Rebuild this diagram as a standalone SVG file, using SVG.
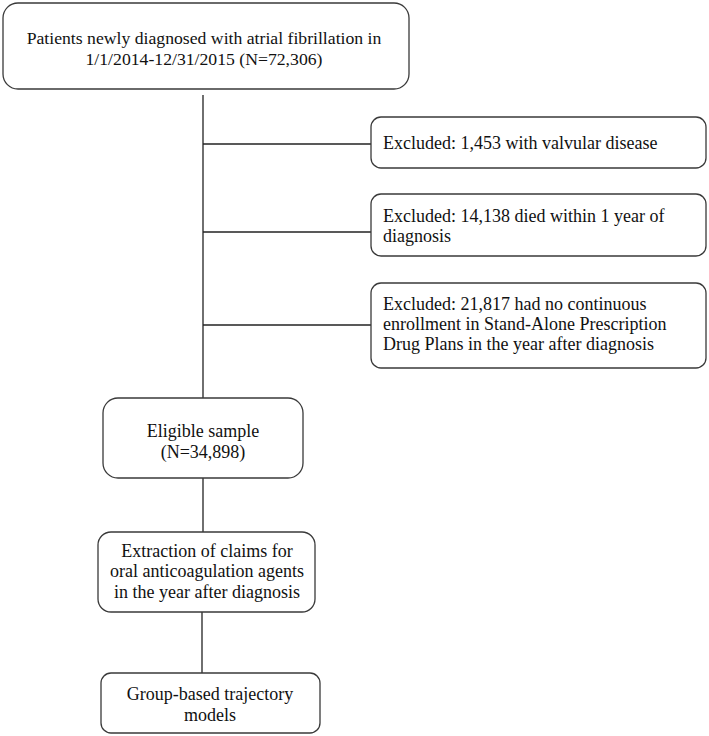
<svg xmlns="http://www.w3.org/2000/svg" width="709" height="736" viewBox="0 0 709 736">
<style>
.box{fill:#fff;stroke:#3a3a3a;stroke-width:1.3}
.t{font-family:"Liberation Serif","Times New Roman",serif;font-size:18px;fill:#111}
.c{text-anchor:middle}
.ln{stroke:#222;stroke-width:1.3;fill:none}
</style>
<rect width="709" height="736" fill="#fff"/>
<g id="connectors">
<line class="ln" x1="203" y1="95" x2="203" y2="398"/>
<line class="ln" x1="203" y1="144" x2="371" y2="144"/>
<line class="ln" x1="203" y1="232" x2="371" y2="232"/>
<line class="ln" x1="203" y1="325" x2="371" y2="325"/>
<line class="ln" x1="203" y1="478" x2="203" y2="532"/>
<line class="ln" x1="202" y1="612" x2="202" y2="673"/>
</g>
<g id="n-start">
<rect class="box" x="3" y="3" width="406" height="86" rx="15"/>
<text class="t c" x="204" y="44" style="font-size:17.7px">Patients newly diagnosed with atrial fibrillation in</text>
<text class="t c" x="204" y="65" style="font-size:17.7px">1/1/2014-12/31/2015 (N=72,306)</text>
</g>
<g id="n-valvular">
<rect class="box" x="371" y="117" width="335" height="51" rx="10"/>
<text class="t" x="383" y="149">Excluded: 1,453 with valvular disease</text>
</g>
<g id="n-died">
<rect class="box" x="371" y="194" width="335" height="62" rx="10"/>
<text class="t" x="383" y="222">Excluded: 14,138 died within 1 year of</text>
<text class="t" x="383" y="242">diagnosis</text>
</g>
<g id="n-enroll">
<rect class="box" x="371" y="283" width="335" height="85" rx="10"/>
<text class="t" x="383" y="310">Excluded: 21,817 had no continuous</text>
<text class="t" x="383" y="330">enrollment in Stand-Alone Prescription</text>
<text class="t" x="383" y="350">Drug Plans in the year after diagnosis</text>
</g>
<g id="n-eligible">
<rect class="box" x="103" y="398" width="200" height="80" rx="15"/>
<text class="t c" x="203" y="437">Eligible sample</text>
<text class="t c" x="203" y="458">(N=34,898)</text>
</g>
<g id="n-extract">
<rect class="box" x="98" y="532" width="217" height="80" rx="13"/>
<text class="t c" x="207" y="557">Extraction of claims for</text>
<text class="t c" x="207" y="577">oral anticoagulation agents</text>
<text class="t c" x="207" y="598">in the year after diagnosis</text>
</g>
<g id="n-gbtm">
<rect class="box" x="101" y="673" width="219" height="60" rx="10"/>
<text class="t c" x="210" y="700">Group-based trajectory</text>
<text class="t c" x="210" y="721">models</text>
</g>
</svg>
